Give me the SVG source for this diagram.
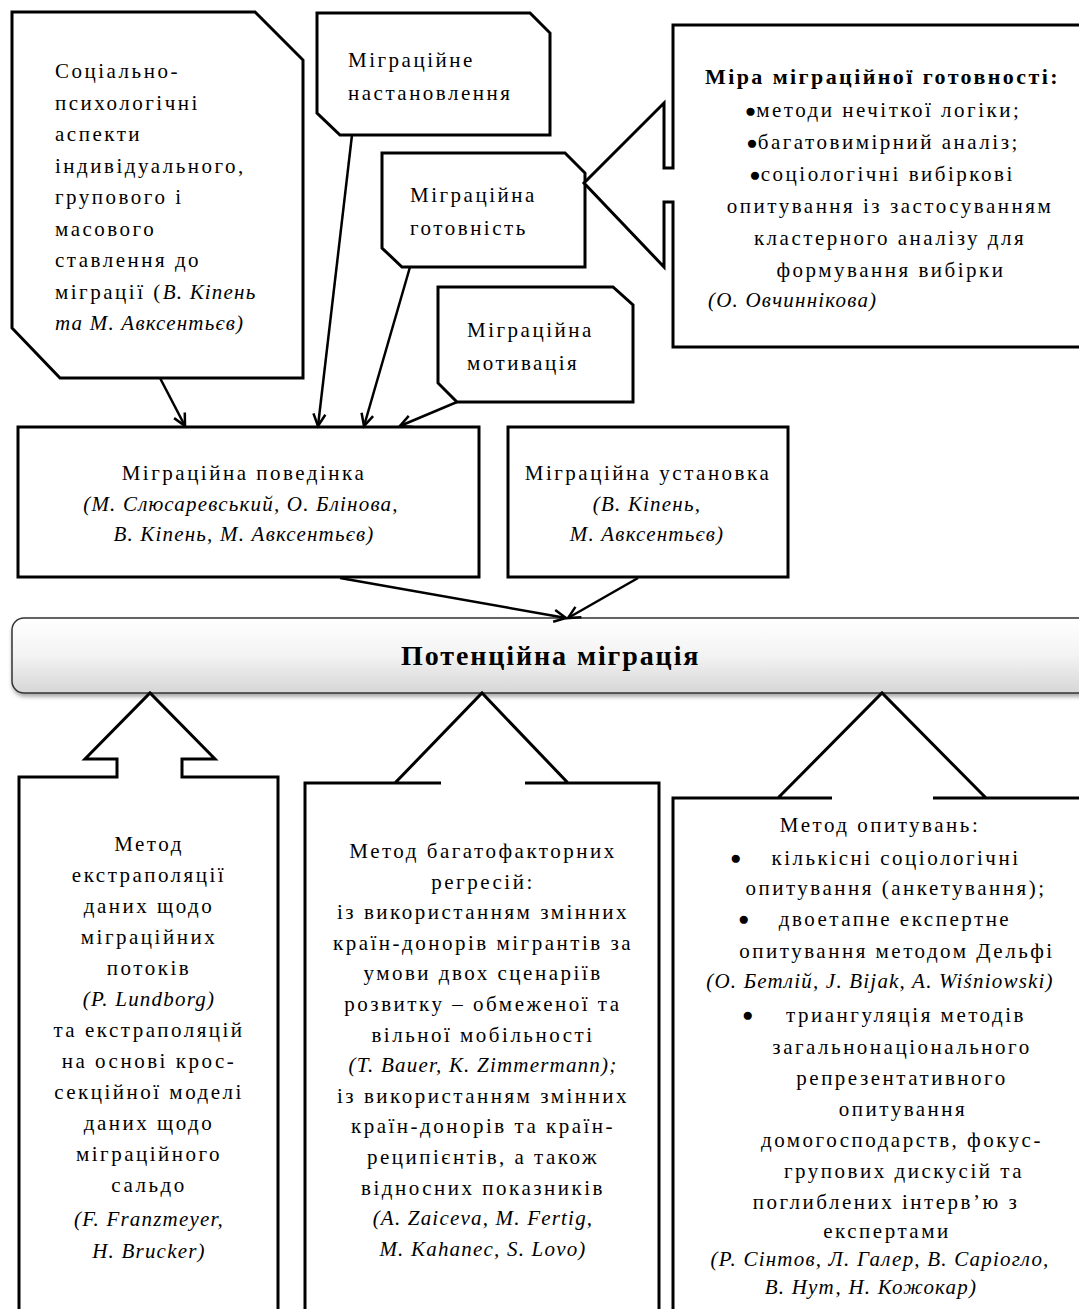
<svg xmlns="http://www.w3.org/2000/svg" width="1079" height="1309" viewBox="0 0 1079 1309">
<style>
.t{font-family:"Liberation Serif","Times New Roman",serif;font-size:21px;letter-spacing:2.5px;fill:#000}
.i{font-style:italic;letter-spacing:1.2px}
.m{text-anchor:middle}
.b{font-weight:bold;letter-spacing:0.5px}
.bu{font-size:19px;letter-spacing:0}
.s{fill:#fff;stroke:#000;stroke-width:3;stroke-linejoin:miter}
.c{stroke:#000;stroke-width:2.5;fill:none}
</style>
<defs>
<marker id="ah" markerWidth="18" markerHeight="18" refX="14" refY="8" orient="auto" markerUnits="userSpaceOnUse">
<path d="M2,2 L14,8 L2,14" fill="none" stroke="#000" stroke-width="2.5"/>
</marker>
<linearGradient id="bg" x1="0" y1="0" x2="0" y2="1">
<stop offset="0" stop-color="#ffffff"/>
<stop offset="0.5" stop-color="#f3f3f3"/>
<stop offset="1" stop-color="#d6d6d6"/>
</linearGradient>
<filter id="sh" x="-5%" y="-30%" width="110%" height="170%">
<feDropShadow dx="1" dy="3" stdDeviation="2" flood-color="#000" flood-opacity="0.35"/>
</filter>
</defs>
<rect width="1079" height="1309" fill="#fff"/>

<g id="socio">
<path class="s" d="M12,12 H255 L303,60 V378 H60 L12,328 Z"/>
<text class="t" x="55" y="78">Соціально-</text>
<text class="t" x="55" y="110">психологічні</text>
<text class="t" x="55" y="141">аспекти</text>
<text class="t" x="55" y="173">індивідуального,</text>
<text class="t" x="55" y="204">групового і</text>
<text class="t" x="55" y="236">масового</text>
<text class="t" x="55" y="267">ставлення до</text>
<text class="t" x="55" y="299">міграції (<tspan class="i">В. Кіпень</tspan></text>
<text class="t i" x="55" y="330">та М. Авксентьєв)</text>
</g>

<g id="nastanovlennia">
<path class="s" d="M317,13 H530 L550,33 V135 H340 L317,113 Z"/>
<text class="t" x="348" y="67">Міграційне</text>
<text class="t" x="348" y="100">настановлення</text>
</g>

<g id="gotovnist">
<path class="s" d="M382,153 H565 L585,173 V267 H402 L382,248 Z"/>
<text class="t" x="410" y="202">Міграційна</text>
<text class="t" x="410" y="235">готовність</text>
</g>

<g id="motyvatsiia">
<path class="s" d="M438,287 H613 L633,305 V402 H457 L438,383 Z"/>
<text class="t" x="467" y="337">Міграційна</text>
<text class="t" x="467" y="370">мотивація</text>
</g>

<g id="mira">
<path class="s" d="M673,25 H1095 V347 H673 V202 H664 V267 L584,183 L664,103 V168 H673 Z"/>
<text class="t b" x="705" y="84" style="font-size:22px" textLength="353" lengthAdjust="spacing">Міра міграційної готовності:</text>
<text class="t m" x="883" y="117"><tspan class="bu">●</tspan>методи нечіткої логіки;</text>
<text class="t m" x="883" y="149"><tspan class="bu">●</tspan>багатовимірний аналіз;</text>
<text class="t m" x="882" y="181"><tspan class="bu">●</tspan>соціологічні вибіркові</text>
<text class="t m" x="890" y="213">опитування із застосуванням</text>
<text class="t m" x="890" y="245">кластерного аналізу для</text>
<text class="t m" x="891" y="277">формування вибірки</text>
<text class="t i" x="708" y="307">(О. Овчиннікова)</text>
</g>

<g id="povedinka">
<rect class="s" x="18" y="427" width="461" height="150"/>
<text class="t m" x="244" y="480">Міграційна поведінка</text>
<text class="t m i" x="241" y="511">(М. Слюсаревський, О. Блінова,</text>
<text class="t m i" x="244" y="541">В. Кіпень, М. Авксентьєв)</text>
</g>

<g id="ustanovka">
<rect class="s" x="508" y="427" width="280" height="150"/>
<text class="t m" x="648" y="480">Міграційна установка</text>
<text class="t m i" x="647" y="511">(В. Кіпень,</text>
<text class="t m i" x="647" y="541">М. Авксентьєв)</text>
</g>

<g id="potentsiina">
<rect x="12" y="618" width="1090" height="75" rx="12" fill="url(#bg)" stroke="#333" stroke-width="1.5" filter="url(#sh)"/>
<text class="t b" x="401" y="665" style="font-size:28px" textLength="298" lengthAdjust="spacing">Потенційна міграція</text>
</g>

<g id="ekstrapoliatsiia">
<path class="s" d="M19,1330 V777 H117 V759 H85 L150,693 L215,759 H182 V777 H278 V1330 Z"/>
<text class="t m" x="149" y="851">Метод</text>
<text class="t m" x="149" y="882">екстраполяції</text>
<text class="t m" x="149" y="913">даних щодо</text>
<text class="t m" x="149" y="944">міграційних</text>
<text class="t m" x="149" y="975">потоків</text>
<text class="t m i" x="149" y="1006">(P. Lundborg)</text>
<text class="t m" x="149" y="1037">та екстраполяцій</text>
<text class="t m" x="149" y="1068">на основі крос-</text>
<text class="t m" x="149" y="1099">секційної моделі</text>
<text class="t m" x="149" y="1130">даних щодо</text>
<text class="t m" x="149" y="1161">міграційного</text>
<text class="t m" x="149" y="1192">сальдо</text>
<text class="t m i" x="149" y="1226">(F. Franzmeyer,</text>
<text class="t m i" x="149" y="1258">H. Brucker)</text>
</g>

<g id="regresii">
<path class="s" d="M305,1330 V783 H441 H395 L482,693 L568,783 H525 H659 V1330 Z"/>
<text class="t m" x="483" y="858">Метод багатофакторних</text>
<text class="t m" x="483" y="889">регресій:</text>
<text class="t m" x="483" y="919">із використанням змінних</text>
<text class="t m" x="483" y="950">країн-донорів мігрантів за</text>
<text class="t m" x="483" y="980">умови двох сценаріїв</text>
<text class="t m" x="483" y="1011">розвитку – обмеженої та</text>
<text class="t m" x="483" y="1042">вільної мобільності</text>
<text class="t m i" x="483" y="1072">(T. Bauer, K. Zimmermann);</text>
<text class="t m" x="483" y="1103">із використанням змінних</text>
<text class="t m" x="483" y="1133">країн-донорів та країн-</text>
<text class="t m" x="483" y="1164">реципієнтів, а також</text>
<text class="t m" x="483" y="1195">відносних показників</text>
<text class="t m i" x="483" y="1225">(A. Zaiceva, M. Fertig,</text>
<text class="t m i" x="483" y="1256">M. Kahanec, S. Lovo)</text>
</g>

<g id="opytuvannia">
<path class="s" d="M673,1330 V798 H832 H778 L882,693 L986,798 H933 H1095 V1330 Z"/>
<text class="t m" x="880" y="832">Метод опитувань:</text>
<text class="t bu" x="730" y="864">●</text>
<text class="t m" x="896" y="865">кількісні соціологічні</text>
<text class="t m" x="896" y="895">опитування (анкетування);</text>
<text class="t bu" x="738" y="925">●</text>
<text class="t m" x="895" y="926">двоетапне експертне</text>
<text class="t m" x="897" y="958">опитування методом Дельфі</text>
<text class="t m i" x="880" y="988">(О. Бетлій, J. Bijak, A. Wiśniowski)</text>
<text class="t bu" x="742" y="1021">●</text>
<text class="t m" x="906" y="1022">триангуляція методів</text>
<text class="t m" x="902" y="1054">загальнонаціонального</text>
<text class="t m" x="902" y="1085">репрезентативного</text>
<text class="t m" x="903" y="1116">опитування</text>
<text class="t m" x="902" y="1147">домогосподарств, фокус-</text>
<text class="t m" x="904" y="1178">групових дискусій та</text>
<text class="t m" x="886" y="1209">поглиблених інтерв’ю з</text>
<text class="t m" x="887" y="1238">експертами</text>
<text class="t m i" x="880" y="1266">(Р. Сінтов, Л. Галер, В. Саріогло,</text>
<text class="t m i" x="871" y="1294">В. Нут, Н. Кожокар)</text>
</g>

<g id="connectors">
<line class="c" x1="160" y1="378" x2="185" y2="426" marker-end="url(#ah)"/>
<line class="c" x1="352" y1="135" x2="318" y2="426" marker-end="url(#ah)"/>
<line class="c" x1="410" y1="267" x2="364" y2="426" marker-end="url(#ah)"/>
<line class="c" x1="457" y1="402" x2="400" y2="426" marker-end="url(#ah)"/>
<line class="c" x1="340" y1="578" x2="566" y2="618" marker-end="url(#ah)"/>
<line class="c" x1="638" y1="578" x2="568" y2="618" marker-end="url(#ah)"/>
</g>
</svg>
